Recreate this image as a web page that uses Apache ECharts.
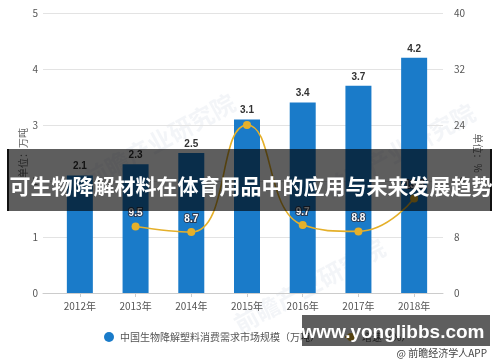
<!DOCTYPE html>
<html>
<head>
<meta charset="utf-8">
<script src="https://cdn.jsdelivr.net/npm/echarts@6/dist/echarts.min.js"></script>
<style>
html,body{margin:0;padding:0;background:#fff;}
#c{width:500px;height:362px;}
</style>
</head>
<body>
<div id="c"></div>
<script>
const categories = ['2012年','2013年','2014年','2015年','2016年','2017年','2018年'];
const marketSize = [2.1, 2.3, 2.5, 3.1, 3.4, 3.7, 4.2];
const growthRate = [null, 9.5, 8.7, 24.0, 9.7, 8.8, 13.5];
const leftTicks = {min: 0, max: 5, interval: 1};
const rightTicks = {min: 0, max: 40, interval: 8};
const barName = '中国生物降解塑料消费需求市场规模（万吨）';
const lineName = '增速（%）';
const titleText = '可生物降解材料在体育用品中的应用与未来发展趋势';
const siteText = 'www.yonglibbs.com';
const sourceText = '@ 前瞻经济学人APP';
const watermarkText = '前瞻产业研究院';

const FONT = '"Noto Sans CJK SC", "Liberation Sans", sans-serif';
const chart = echarts.init(document.getElementById('c'), null, {renderer: 'canvas'});

const lineData = growthRate.map((v, i) => i === 3 ? {value: v, label: {show: false}} : v);

const option = {
  animation: false,
  backgroundColor: '#fff',
  textStyle: {fontFamily: FONT},
  grid: [
    {left: 43, right: 57, top: 13, bottom: 69},
    {left: 52, right: 58, top: 13, bottom: 69}
  ],
  legend: {
    left: 99, top: 327,
    itemGap: 24, itemWidth: 12, itemHeight: 10,
    textStyle: {fontSize: 10, color: '#555', fontFamily: FONT},
    data: [
      {name: barName, icon: 'circle'},
      {name: lineName}
    ]
  },
  xAxis: [
    {gridIndex: 0, type: 'value', min: 0, max: 1,
     axisLine: {show: true, onZero: false, lineStyle: {color: '#ccc'}},
     axisTick: {show: false}, axisLabel: {show: false}, splitLine: {show: false}},
    {gridIndex: 1, type: 'category', data: categories,
     axisLine: {show: false},
     axisTick: {show: true, alignWithLabel: true, length: 4, lineStyle: {color: '#ccc'}},
     axisLabel: {fontSize: 10, color: '#555', margin: 8, fontFamily: FONT}}
  ],
  yAxis: [
    {gridIndex: 0, type: 'value', position: 'left', min: leftTicks.min, max: leftTicks.max, interval: leftTicks.interval,
     name: '单位：万吨', nameLocation: 'middle', nameRotate: 90, nameGap: 15, nameMoveOverlap: false,
     nameTextStyle: {fontSize: 10, color: '#666', fontFamily: FONT},
     axisLine: {show: false}, axisTick: {show: false},
     axisLabel: {fontSize: 10, color: '#555', margin: 5},
     splitLine: {lineStyle: {color: '#e3e3e3'}}},
    {gridIndex: 0, type: 'value', position: 'right', min: rightTicks.min, max: rightTicks.max, interval: rightTicks.interval,
     name: '单位：%', nameLocation: 'middle', nameRotate: -90, nameGap: 30, nameMoveOverlap: false,
     nameTextStyle: {fontSize: 10, color: '#666', fontFamily: FONT},
     axisLine: {show: false}, axisTick: {show: false},
     axisLabel: {fontSize: 10, color: '#555', margin: 11},
     splitLine: {show: false}},
    {gridIndex: 1, type: 'value', min: leftTicks.min, max: leftTicks.max, show: false},
    {gridIndex: 1, type: 'value', min: rightTicks.min, max: rightTicks.max, show: false}
  ],
  series: [
    {name: barName, type: 'bar', xAxisIndex: 1, yAxisIndex: 2, data: marketSize,
     barWidth: 26,
     itemStyle: {color: '#1a7bc9'},
     label: {show: true, position: 'top', distance: 4, fontSize: 10, fontWeight: 'bold', color: '#333', fontFamily: 'Liberation Sans, sans-serif'}},
    {name: lineName, type: 'line', xAxisIndex: 1, yAxisIndex: 3, data: lineData,
     smooth: 0.5, symbol: 'circle', symbolSize: 8,
     lineStyle: {color: '#e5b02a', width: 1.6},
     itemStyle: {color: '#e5b02a'},
     label: {show: true, position: 'top', distance: 4, fontSize: 10, fontWeight: 'bold', color: '#fff',
             textBorderColor: '#2a3b55', textBorderWidth: 2, fontFamily: 'Liberation Sans, sans-serif'}}
  ],
  graphic: [
    {type: 'text', left: 80, top: 90, rotation: 0.5, z: 0, silent: true,
     style: {text: watermarkText, fill: 'rgba(190,200,215,0.18)', font: 'bold 24px "Noto Sans CJK SC"'}},
    {type: 'text', left: 320, top: 100, rotation: 0.5, z: 0, silent: true,
     style: {text: watermarkText, fill: 'rgba(190,200,215,0.18)', font: 'bold 24px "Noto Sans CJK SC"'}},
    {type: 'text', left: 230, top: 235, rotation: 0.5, z: 0, silent: true,
     style: {text: watermarkText, fill: 'rgba(190,200,215,0.18)', font: 'bold 24px "Noto Sans CJK SC"'}},
    {type: 'rect', z: 100, silent: true, shape: {x: 8, y: 149, width: 483, height: 62},
     style: {fill: 'rgba(0,0,0,0.63)'}},
    {type: 'rect', z: 101, silent: true, shape: {x: 7, y: 149, width: 2, height: 62}, style: {fill: '#111'}},
    {type: 'rect', z: 101, silent: true, shape: {x: 490, y: 149, width: 2, height: 62}, style: {fill: '#111'}},
    {type: 'text', z: 102, silent: true, x: 251, y: 186,
     style: {text: titleText, fill: '#fff', font: 'bold 21px "Noto Sans CJK SC"', textAlign: 'center', textVerticalAlign: 'middle'}},
    {type: 'rect', z: 100, silent: true, shape: {x: 302, y: 315, width: 188, height: 31},
     style: {fill: 'rgba(0,0,0,0.63)'}},
    {type: 'text', z: 102, silent: true, x: 393, y: 333,
     style: {text: siteText, fill: '#fff', font: 'bold 19px "Liberation Sans"', textAlign: 'center', textVerticalAlign: 'middle'}},
    {type: 'text', z: 99, silent: true, x: 487, y: 353,
     style: {text: sourceText, fill: '#444', font: '10px "Noto Sans CJK SC"', textAlign: 'right', textVerticalAlign: 'middle'}}
  ]
};
chart.setOption(option);
</script>
</body>
</html>
